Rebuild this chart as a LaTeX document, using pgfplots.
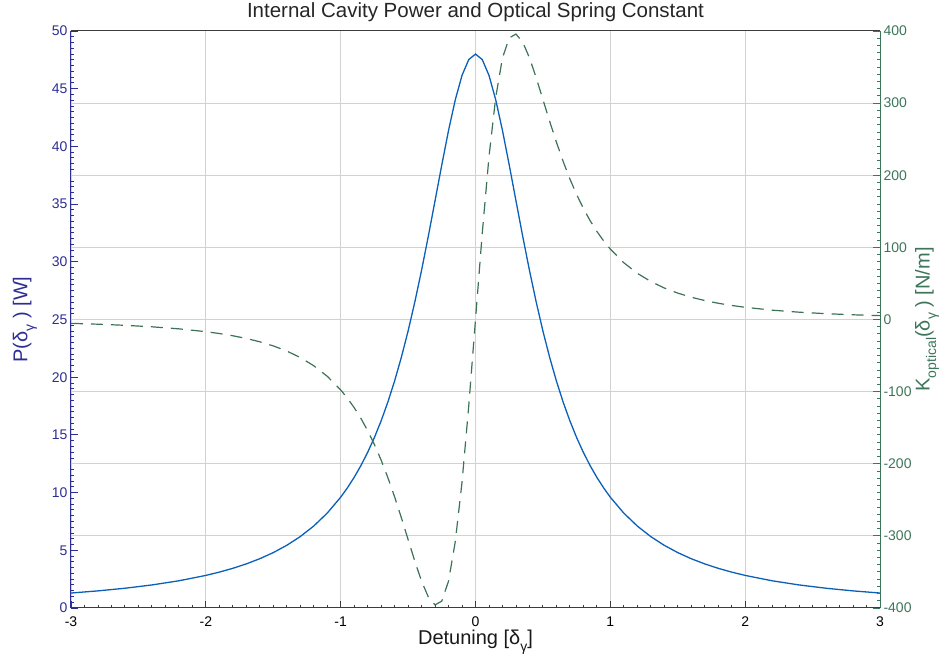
\documentclass[border=0pt]{standalone}
\usepackage{fontspec}
\setmainfont{Liberation Sans}
\usepackage{pgfplots}
\usepackage{pgfplotstable}
\pgfplotsset{compat=1.18}

\definecolor{pblue}{RGB}{45,45,150}
\definecolor{pline}{RGB}{10,95,185}
\definecolor{kgreen}{RGB}{60,118,88}
\definecolor{kline}{RGB}{60,115,85}
\definecolor{gridgray}{RGB}{210,210,210}
\definecolor{axisdark}{RGB}{60,60,60}

\newcommand{\ticksize}{\fontsize{14}{16}\selectfont}
\newcommand{\labsize}{\fontsize{20}{23}\selectfont}
\newcommand{\titlesize}{\fontsize{20.5}{23}\selectfont}
\newcommand{\sub}[1]{\raisebox{-0.33em}{\fontsize{14}{15}\selectfont #1}}

% detuning, circulating power [W], optical spring constant [N/m]
\pgfplotstableread{
x      P       K
-3.0   1.297   -5.347
-2.8   1.483   -6.524
-2.6   1.712   -8.069
-2.4   1.997   -10.133
-2.2   2.358   -12.950
-2.0   2.824   -16.886
-1.9   3.109   -19.45
-1.8   3.438   -22.537
-1.7   3.822   -26.29
-1.6   4.270   -30.901
-1.5   4.800   -36.60
-1.4   5.430   -43.71
-1.3   6.186   -52.68
-1.2   7.101   -64.07
-1.1   8.219   -78.70
-1.0   9.600   -97.60
-0.95  10.412  -109.07
-0.9   11.321  -122.15
-0.85  12.339  -137.06
-0.8   13.483  -154.02
-0.75  14.769  -173.25
-0.7   16.216  -194.94
-0.65  17.844  -219.18
-0.6   19.672  -245.89
-0.55  21.719  -274.77
-0.5   24.000  -305.00
-0.45  26.519  -335.15
-0.4   29.268  -362.88
-0.35  32.215  -384.67
-0.3   35.294  -395.76
-0.25  38.400  -390.40
-0.2   41.379  -362.66
-0.15  44.037  -308.05
-0.1   46.154  -225.59
-0.05  47.525  -119.60
0.0    48.000  0.0
0.05   47.525  119.60
0.1    46.154  225.59
0.15   44.037  308.05
0.2    41.379  362.66
0.25   38.400  390.40
0.3    35.294  395.76
0.35   32.215  384.67
0.4    29.268  362.88
0.45   26.519  335.15
0.5    24.000  305.00
0.55   21.719  274.77
0.6    19.672  245.89
0.65   17.844  219.18
0.7    16.216  194.94
0.75   14.769  173.25
0.8    13.483  154.02
0.85   12.339  137.06
0.9    11.321  122.15
0.95   10.412  109.07
1.0    9.600   97.60
1.1    8.219   78.70
1.2    7.101   64.07
1.3    6.186   52.68
1.4    5.430   43.71
1.5    4.800   36.60
1.6    4.270   30.901
1.7    3.822   26.29
1.8    3.438   22.537
1.9    3.109   19.45
2.0    2.824   16.886
2.2    2.358   12.950
2.4    1.997   10.133
2.6    1.712   8.069
2.8    1.483   6.524
3.0    1.297   5.347
}\cavity

\begin{document}
\begin{tikzpicture}
\useasboundingbox (-71pt,-52pt) rectangle (876pt,608pt);

% left axis: circulating power
\begin{axis}[
  at={(0,0)}, anchor=south west,
  scale only axis, width=809pt, height=577pt,
  xmin=-3, xmax=3, ymin=0, ymax=50,
  axis x line*=box, axis y line*=left,
  xtick={-3,-2,...,3}, ytick={0,5,...,50},
  xtick pos=left, ytick pos=left,
  minor x tick num=9, minor y tick num=9,
  major tick length=7pt, minor tick length=3pt,
  xmajorgrids,
  extra y ticks={6.25,12.5,18.75,31.25,37.5,43.75,25},
  extra y tick labels={},
  extra y tick style={grid=major, major tick length=0pt},
  grid style={gridgray, line width=0.8pt},
  x axis line style={axisdark, line width=1pt, -},
  y axis line style={pblue, line width=1pt, -},
  x tick style={axisdark, line width=0.9pt},
  y tick style={pblue, line width=0.9pt},
  /pgf/number format/assume math mode=true,
  xticklabel style={font=\ticksize, black, yshift=-5pt},
  yticklabel style={font=\ticksize, pblue},
  title={Internal Cavity Power and Optical Spring Constant},
  title style={font=\titlesize, color=black!85, at={(0.5,1)}, anchor=base, yshift=7pt},
  xlabel={Detuning [δ\sub{γ}]},
  xlabel style={font=\labsize, black!90, at={(0.5,0)}, anchor=base, yshift=-37pt},
  ylabel={P(δ\sub{γ} ) [W]},
  ylabel style={font=\labsize, pblue, at={(0,0.5)}, anchor=center, yshift=46pt},
]
\addplot[pline, line width=1.3pt] table[x=x, y=P] {\cavity};
\end{axis}

% right axis: optical spring constant
\begin{axis}[
  at={(0,0)}, anchor=south west,
  scale only axis, width=809pt, height=577pt,
  xmin=-3, xmax=3, ymin=-400, ymax=400,
  axis x line=none, axis y line*=right,
  ytick={-400,-300,...,400},
  ytick pos=right, yticklabel pos=right,
  minor y tick num=9,
  major tick length=7pt, minor tick length=3pt,
  y axis line style={kgreen, line width=1pt, -},
  y tick style={kgreen, line width=0.9pt},
  /pgf/number format/assume math mode=true,
  yticklabel style={font=\ticksize, kgreen},
  ylabel={K\sub{optical}(δ\sub{γ} ) [N/m]},
  ylabel style={font=\labsize, kgreen, at={(1,0.5)}, anchor=center, yshift=-47pt},
]
\addplot[kline, line width=1.2pt, dash pattern=on 12pt off 8pt] table[x=x, y=K] {\cavity};
\end{axis}
\end{tikzpicture}
\end{document}
